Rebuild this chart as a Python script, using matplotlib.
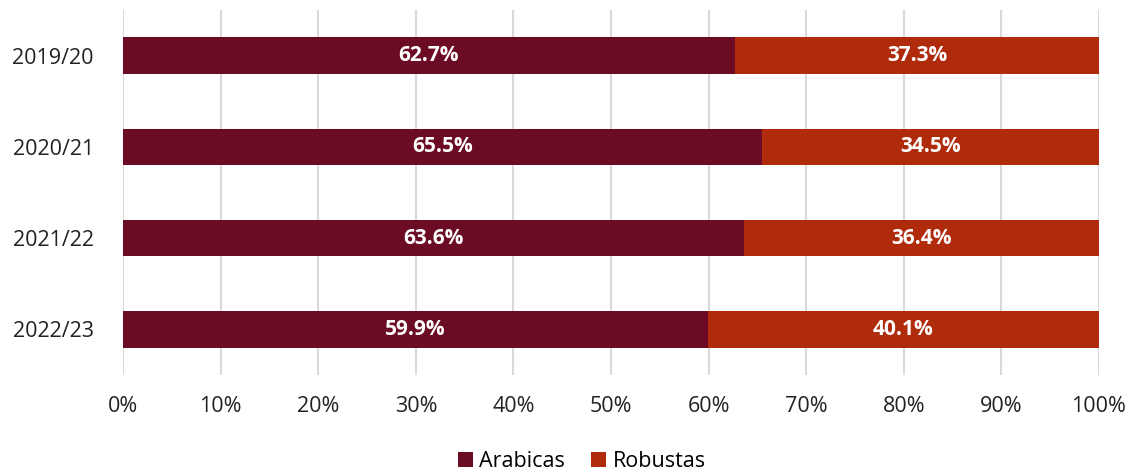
import matplotlib.pyplot as plt
import numpy as np

plt.rcParams['font.family'] = ['Open Sans', 'DejaVu Sans']

seasons = ['2019/20', '2020/21', '2021/22', '2022/23']
arabicas = [62.7, 65.5, 63.6, 59.9]
robustas = [37.3, 34.5, 36.4, 40.1]

c_arab = '#6b0c24'
c_rob = '#b02a0c'

fig = plt.figure(figsize=(11.32, 4.72), dpi=100)
ax = fig.add_axes([0.1087, 0.2055, 0.8621, 0.7733])

y = np.arange(len(seasons))
ax.barh(y, arabicas, height=0.4, color=c_arab, label='Arabicas', zorder=3)
ax.barh(y, robustas, left=arabicas, height=0.4, color=c_rob, label='Robustas', zorder=3)

for i in range(len(seasons)):
    ax.text(arabicas[i] / 2, y[i], f'{arabicas[i]:.1f}%', ha='center', va='center',
            color='white', fontsize=15, fontweight='bold', zorder=4)
    ax.text(arabicas[i] + robustas[i] / 2, y[i], f'{robustas[i]:.1f}%', ha='center', va='center',
            color='white', fontsize=15, fontweight='bold', zorder=4)

ax.set_xlim(0, 100)
ax.set_ylim(3.5, -0.5)
ax.set_xticks(range(0, 101, 10))
ax.set_xticklabels([f'{v}%' for v in range(0, 101, 10)])
ax.set_yticks(y)
ax.set_yticklabels(seasons)
ax.tick_params(length=0, labelsize=15.5, colors='#222222')
ax.tick_params(axis='x', pad=15)
ax.tick_params(axis='y', pad=21)
ax.grid(axis='x', color='#d9d9d9', linewidth=1.5, zorder=0)
for s in ax.spines.values():
    s.set_visible(False)

fig.legend(*ax.get_legend_handles_labels(), loc='center', bbox_to_anchor=(0.514, 0.022),
           ncol=2, frameon=False, fontsize=15.5, handlelength=0.7, handleheight=0.7,
           handletextpad=0.3, columnspacing=1.2, borderpad=0)

plt.savefig('out.png', dpi=100)
